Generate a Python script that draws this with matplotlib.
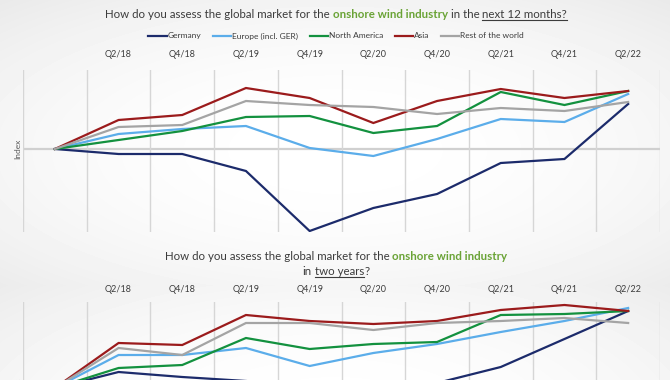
import numpy as np
import matplotlib.pyplot as plt
from matplotlib.lines import Line2D

plt.rcParams['font.family'] = ['Lato', 'DejaVu Sans']

# half-year survey waves, first one (Q4/17) is the base of the index
quarters = ['Q4/17', 'Q2/18', 'Q4/18', 'Q2/19', 'Q4/19', 'Q2/20', 'Q4/20', 'Q2/21', 'Q4/21', 'Q2/22']
tick_labels = ['', 'Q2/18', 'Q4/18', 'Q2/19', 'Q4/19', 'Q2/20', 'Q4/20', 'Q2/21', 'Q4/21', 'Q2/22']
regions = ['Germany', 'Europe (incl. GER)', 'North America', 'Asia', 'Rest of the world']
colors = ['#1c2b6b', '#5badea', '#13913f', '#9b1b1c', '#a4a4a4']

# next 12 months
germany_12m = [0, -5, -5, -22, -82, -59, -45, -14, -10, 45]
europe_12m = [0, 15, 20, 23, 1, -7, 10, 30, 27, 55]
namerica_12m = [0, 9, 18, 32, 33, 16, 23, 57, 44, 58]
asia_12m = [0, 29, 34, 61, 51, 26, 48, 60, 51, 58]
rest_12m = [0, 22, 24, 48, 44, 42, 35, 41, 38, 47]

# in two years
germany_2y = [0, 16, 11, 7, -4, -7, 5, 21, 49, 77]
europe_2y = [0, 33, 33, 40, 22, 35, 44, 56, 67, 80]
namerica_2y = [0, 20, 23, 50, 39, 44, 46, 73, 74, 77]
asia_2y = [0, 45, 43, 73, 67, 64, 67, 78, 83, 77]
rest_2y = [0, 40, 33, 65, 65, 58, 65, 67, 70, 65]

W, H = 670, 380
dark = '#3c3c3c'
green = '#6aa336'

fig = plt.figure(figsize=(W / 100, H / 100), dpi=100)

# soft grey vignette behind each panel
yy, xx = np.mgrid[0:H, 0:W]
def vignette(cx, cy, rx, ry):
    r = np.sqrt(((xx - cx) / rx) ** 2 + ((yy - cy) / ry) ** 2)
    return 1 - 0.06 * np.clip(r, 0, 1.4) ** 2
bg_img = np.maximum(vignette(335, 150, 420, 170), vignette(335, 420, 420, 170))
bg = fig.add_axes([0, 0, 1, 1], zorder=-10)
bg.imshow(bg_img, cmap='gray', vmin=0, vmax=1, extent=[0, 1, 0, 1], aspect='auto')
bg.axis('off')


def fx(px):
    return px / W


def fy(px):
    return 1 - px / H


def rich_line(y_base, parts, size):
    # parts: (text, color, bold, underline, space_before)
    renderer = fig.canvas.get_renderer()
    probe = fig.text(0, 0, 'a a', fontsize=size)
    probe2 = fig.text(0, 0, 'aa', fontsize=size)
    space = probe.get_window_extent(renderer).width - probe2.get_window_extent(renderer).width
    probe.remove()
    probe2.remove()
    texts = []
    for s, color, bold, under, sp in parts:
        t = fig.text(0, fy(y_base), s, fontsize=size, color=color,
                     fontweight='bold' if bold else 'normal', va='baseline', ha='left')
        texts.append(t)
    widths = [t.get_window_extent(renderer).width for t in texts]
    total = sum(widths) + space * sum(1 for p in parts if p[4])
    x = W / 2 + 1 - total / 2
    for t, w, p in zip(texts, widths, parts):
        if p[4]:
            x += space
        t.set_x(fx(x))
        if p[3]:
            fig.add_artist(Line2D([fx(x), fx(x + w)], [fy(y_base + 1.8)] * 2,
                                  color=p[1], lw=0.8))
        x += w


def panel(top_px, ylim, data, pad):
    ax = fig.add_axes([fx(23), fy(top_px + 162), fx(637), 162 / H])
    ax.patch.set_alpha(0)
    for s in ax.spines.values():
        s.set_visible(False)
    x = np.arange(len(quarters))
    ax.set_xlim(-0.5, len(quarters) - 0.5)
    ax.set_ylim(*ylim)
    ax.xaxis.tick_top()
    ax.set_xticks(x)
    ax.set_xticklabels(tick_labels, fontsize=6.5, color=dark)
    ax.set_xticks(np.arange(-0.5, len(quarters)), minor=True)
    ax.tick_params(axis='x', which='both', length=0, pad=pad)
    ax.set_yticks([])
    ax.grid(axis='x', which='minor', color='#d6d6d6', lw=1.0)
    ax.axhline(0, color='#d0d0d0', lw=1.6, zorder=1)
    for vals, c in zip(data, colors):
        ax.plot(x, vals, color=c, lw=1.6, zorder=3, solid_joinstyle='miter')
    zero_frac = (0 - ylim[0]) / (ylim[1] - ylim[0])
    ax.text(-5 / 637, zero_frac, 'Index', rotation=90, ha='center', va='center',
            fontsize=6, color='#595959', transform=ax.transAxes)
    return ax


ax1 = panel(70, (-83, 79), [germany_12m, europe_12m, namerica_12m, asia_12m, rest_12m], 8)
ax2 = panel(302, (-76, 86), [germany_2y, europe_2y, namerica_2y, asia_2y, rest_2y], 6)

rich_line(18.5, [
    ('How do you assess the global market for the', dark, False, False, False),
    ('onshore wind industry', green, True, False, True),
    ('in the', dark, False, False, True),
    ('next 12 months?', dark, False, True, True),
], 8.3)

rich_line(260, [
    ('How do you assess the global market for the', dark, False, False, False),
    ('onshore wind industry', green, True, False, True),
], 8.3)
rich_line(275, [
    ('in', dark, False, False, False),
    ('two years', dark, False, True, True),
    ('?', dark, False, False, False),
], 8.3)

handles = [Line2D([], [], color=c, lw=1.6) for c in colors]
fig.legend(handles, regions, loc='center', bbox_to_anchor=(fx(336), fy(36)), ncol=5,
           frameon=False, fontsize=6, labelcolor=dark, handlelength=2.2,
           handletextpad=0.1, columnspacing=1.4, borderaxespad=0, borderpad=0)

fig.savefig('out.png', dpi=100)
